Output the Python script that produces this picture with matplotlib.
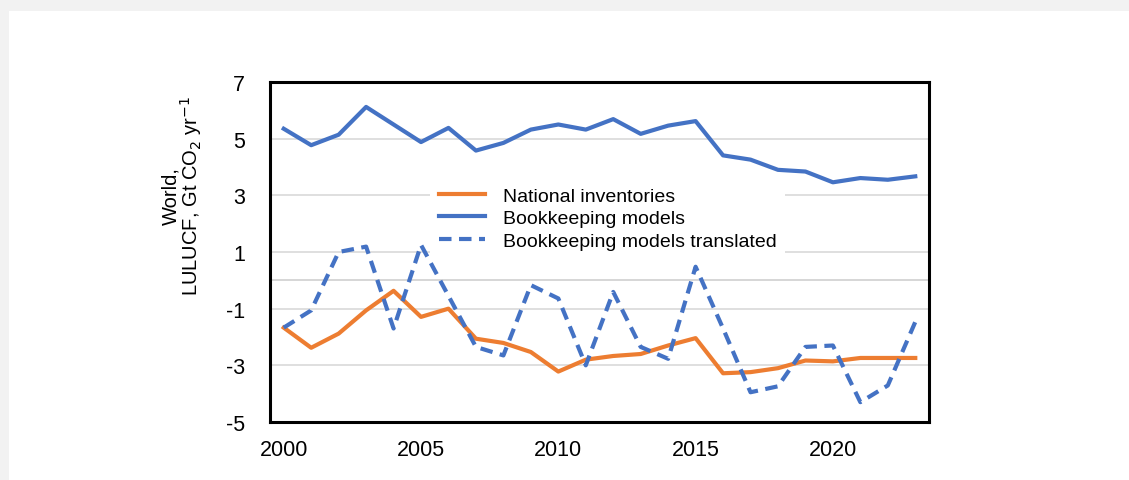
import matplotlib
matplotlib.use("Agg")
import matplotlib.pyplot as plt
from matplotlib.patches import Rectangle

plt.rcParams['font.family'] = ['Liberation Sans', 'DejaVu Sans']
plt.rcParams['axes.unicode_minus'] = False

years = list(range(2000, 2024))

# Gt CO2 / yr
national = [-1.67, -2.38, -1.88, -1.06, -0.37, -1.29, -1.00, -2.06, -2.21, -2.53,
            -3.22, -2.80, -2.67, -2.60, -2.30, -2.04, -3.28, -3.24, -3.10, -2.83,
            -2.86, -2.74, -2.74, -2.74]
bookkeeping = [5.35, 4.77, 5.14, 6.12, 5.50, 4.88, 5.38, 4.58, 4.85, 5.32,
               5.50, 5.32, 5.69, 5.17, 5.46, 5.62, 4.41, 4.26, 3.90, 3.84,
               3.46, 3.61, 3.55, 3.67]
translated = [-1.67, -1.06, 1.00, 1.19, -1.70, 1.25, -0.55, -2.35, -2.65, -0.17,
              -0.64, -3.00, -0.41, -2.35, -2.77, 0.48, -1.70, -3.95, -3.74, -2.35,
              -2.30, -4.30, -3.71, -1.47]

y_ticks = [-5, -3, -1, 1, 3, 5, 7]
x_ticks = [2000, 2005, 2010, 2015, 2020]

orange = "#ED7D31"
blue = "#4472C4"

fig = plt.figure(figsize=(11.29, 4.81), dpi=100)
fig.patch.set_facecolor("#f2f2f2")
# white card
fig.add_artist(Rectangle((9 / 1129, 0), 1 - 9 / 1129, 1 - 12 / 481,
                         transform=fig.transFigure, facecolor="white",
                         edgecolor="none", zorder=0))

ax = fig.add_axes([270 / 1129, 58 / 481, 659 / 1129, 340 / 481])
ax.set_facecolor("white")

# gridlines at odd values plus zero line
for v in y_ticks[1:-1]:
    ax.axhline(v, color="#d9d9d9", lw=1.2, zorder=1)
ax.axhline(0, color="#d0d0d0", lw=1.2, zorder=1)

ax.plot(years, national, color=orange, lw=3, label="National inventories", zorder=3)
ax.plot(years, bookkeeping, color=blue, lw=3, label="Bookkeeping models", zorder=3)
ax.plot(years, translated, color=blue, lw=3, ls=(0, (3, 1.8)),
        label="Bookkeeping models translated", zorder=3)

ax.set_xlim(1999.5, 2023.5)
ax.set_ylim(-5, 7)
ax.set_yticks(y_ticks)
ax.set_xticks(x_ticks)
ax.tick_params(axis="both", length=0, labelsize=15.5)
ax.tick_params(axis="y", pad=18)
ax.tick_params(axis="x", pad=12)

for s in ax.spines.values():
    s.set_color("black")
    s.set_linewidth(2.2)

leg = ax.legend(loc="upper left", bbox_to_anchor=(0.228, 0.745), fontsize=14,
                frameon=True, facecolor="white", edgecolor="none", framealpha=1,
                handlelength=2.4, handletextpad=0.9, labelspacing=0.25,
                borderpad=0.45, fancybox=False)
leg.set_zorder(2)

fig.text(183 / 1129, 1 - 196 / 481, "World,\nLULUCF, Gt CO$_2$ yr$^{-1}$",
         rotation=90, ha="center", va="center", fontsize=14.5,
         linespacing=0.9)

fig.savefig("out.png", dpi=100)
